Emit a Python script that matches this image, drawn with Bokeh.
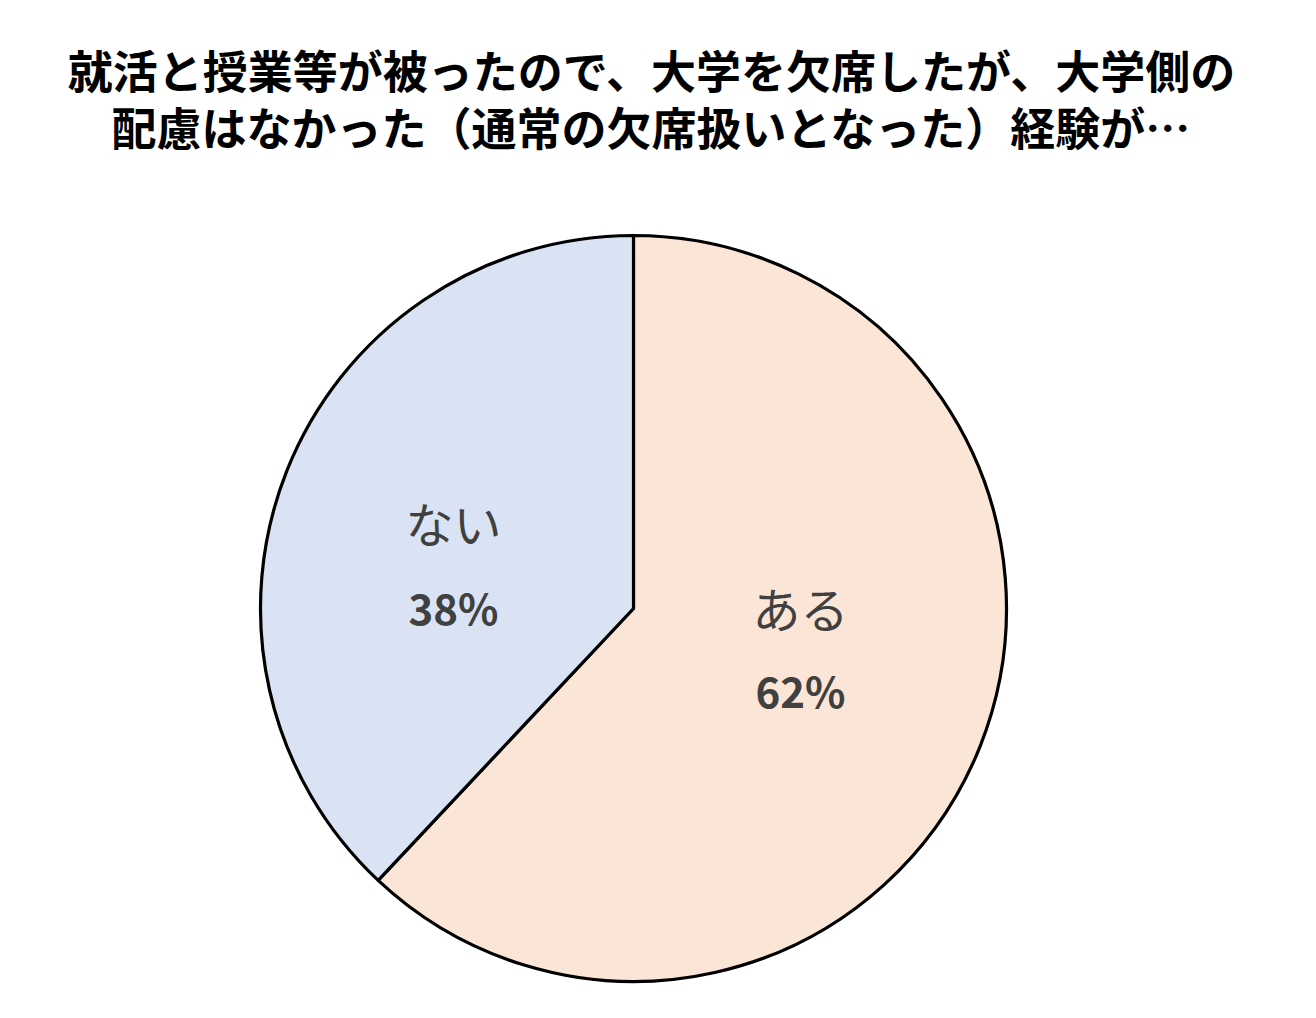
from bokeh.plotting import figure
from bokeh.models import Range1d, ColumnDataSource
from bokeh.core.properties import value
from bokeh.embed import file_html
from bokeh.resources import INLINE
import math

categories = ["ある", "ない"]
values = [62, 38]
colors = ["#FBE5D6", "#DAE3F3"]
title_lines = ["就活と授業等が被ったので、大学を欠席したが、大学側の",
               "配慮はなかった（通常の欠席扱いとなった）経験が…"]

W, H = 1300, 1000
p = figure(width=W, height=H, output_backend="svg", toolbar_location=None,
           x_range=Range1d(0, W), y_range=Range1d(0, H), min_border=0)
p.axis.visible = False
p.grid.visible = False
p.outline_line_color = None

def Y(y_screen):
    return H - y_screen

def X(x_screen):
    return x_screen

cx, cy, r = X(633), Y(608), 373

total = sum(values)
starts, ends = [], []
a = math.pi / 2
for v in values:
    e = a - 2 * math.pi * v / total
    starts.append(e)
    ends.append(a)
    a = e

src = ColumnDataSource(dict(start=starts, end=ends, color=colors, cat=categories))
p.wedge(x=cx, y=cy, radius=r, start_angle="start", end_angle="end",
        fill_color="color", line_color="black", line_width=3.2, source=src)

# labels
lab_pos = [(X(800), Y(606), Y(689)), (X(453), Y(521), Y(606))]
for (lx, ly1, ly2), cat, v in zip(lab_pos, categories, values):
    p.text(x=[lx], y=[ly1], text=[cat], text_align="center", text_baseline="middle",
           text_font=value("Noto Sans CJK JP"), text_font_size="48px", text_color="#404040")
    p.text(x=[lx], y=[ly2], text=[f"{v}%"], text_align="center", text_baseline="middle",
           text_font=value("Noto Sans CJK JP"), text_font_size="42px", text_font_style="bold",
           text_color="#404040")

# title
for ys, t in zip([69, 126], title_lines):
    p.text(x=[X(651)], y=[Y(ys)], text=[t], text_align="center", text_baseline="middle",
           text_font=value("Noto Sans CJK JP"), text_font_size="45px", text_font_style="bold",
           text_color="#000000")

open("out.html", "w").write(file_html(p, INLINE))
